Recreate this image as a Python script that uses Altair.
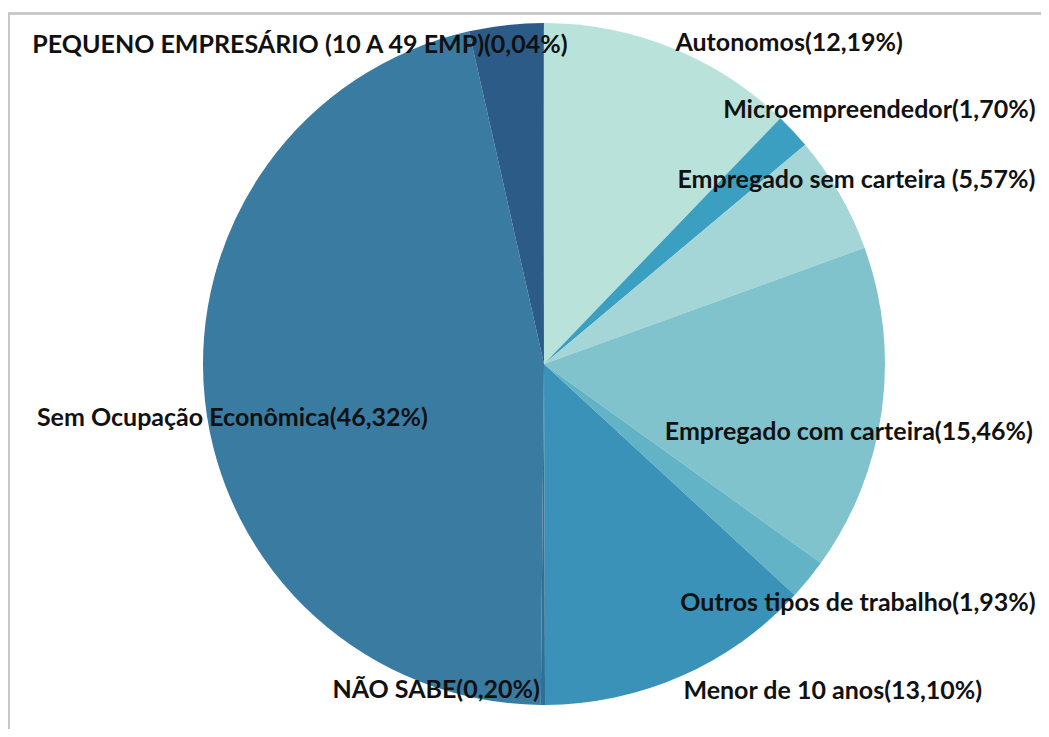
import altair as alt
import pandas as pd

categories = [
    "Autonomos",
    "Microempreendedor",
    "Empregado sem carteira",
    "Empregado com carteira",
    "Outros tipos de trabalho",
    "Menor de 10 anos",
    "NÃO SABE",
    "Sem Ocupação Econômica",
    "(sem rótulo)",
    "PEQUENO EMPRESÁRIO (10 A 49 EMP)",
]
values = [12.19, 1.70, 5.57, 15.46, 1.93, 13.10, 0.20, 46.32, 3.49, 0.04]
labels = [
    "Autonomos(12,19%)",
    "Microempreendedor(1,70%)",
    "Empregado sem carteira (5,57%)",
    "Empregado com carteira(15,46%)",
    "Outros tipos de trabalho(1,93%)",
    "Menor de 10 anos(13,10%)",
    "NÃO SABE(0,20%)",
    "Sem Ocupação Econômica(46,32%)",
    "",
    "PEQUENO EMPRESÁRIO (10 A 49 EMP)(0,04%)",
]
colors = ["#b9e3da", "#3a9fc0", "#a4d6d7", "#80c3cc", "#62b3c5",
          "#3a92b8", "#2f6f98", "#3a7ba2", "#2d5b88", "#2d5b88"]

df = pd.DataFrame({
    "idx": list(range(len(categories))),
    "cat": categories,
    "value": values,
    "label": labels,
})

W, H = 1033, 721
CX, CY, R = 536, 356, 341
FONT = "Lato"
FS = 25

# label placement style: (align, dx, dy) relative to slice mid-angle on the rim
label_style = {
    "Autonomos": ("left", 4, -5),
    "Microempreendedor": ("left", -70, -21),
    "Empregado sem carteira": ("left", -162, -14),
    "Empregado com carteira": ("left", -217, 21),
    "Outros tipos de trabalho": ("left", -128, 24),
    "Menor de 10 anos": ("left", 2, 15),
    "NÃO SABE": ("right", -3, -15),
    "Sem Ocupação Econômica": ("left", -168, 18),
    "PEQUENO EMPRESÁRIO (10 A 49 EMP)": ("right", 24, 22),
}

base = alt.Chart(df).encode(
    theta=alt.Theta("value:Q", stack=True),
    order=alt.Order("idx:Q"),
)

pie = base.mark_arc(radius=R).encode(
    color=alt.Color("cat:N", scale=alt.Scale(domain=categories, range=colors), legend=None),
    x=alt.value(CX),
    y=alt.value(CY),
)

layers = [pie]
for cat, (align, dx, dy) in label_style.items():
    t = base.mark_text(
        radius=R, align=align, baseline="middle", dx=dx, dy=dy,
        font=FONT, fontSize=FS, fontWeight="bold", color="#111111",
    ).encode(
        text=alt.condition(f"datum.cat === '{cat}'", "label:N", alt.value("")),
        x=alt.value(CX),
        y=alt.value(CY),
    )
    layers.append(t)

frame_top = alt.Chart(df).mark_rule(color="#c8c8c8", strokeWidth=1.5).encode(
    x=alt.value(0), x2=alt.value(W), y=alt.value(5.5)
)
frame_left = alt.Chart(df).mark_rule(color="#c8c8c8", strokeWidth=1.5).encode(
    x=alt.value(0.75), y=alt.value(5), y2=alt.value(H)
)

chart = alt.layer(frame_top, frame_left, *layers).properties(
    width=W, height=H, padding=0,
    autosize=alt.AutoSizeParams(type="none"),
    background="white",
).configure_view(stroke=None)

chart.save("out.html", embed_options={"renderer": "svg", "actions": False})
